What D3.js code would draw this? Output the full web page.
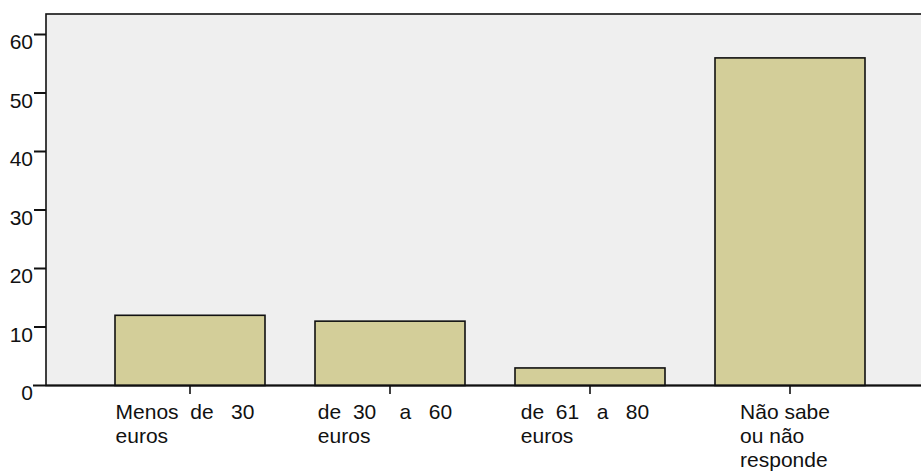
<!DOCTYPE html>
<html>
<head>
<meta charset="utf-8">
<script src="https://cdn.jsdelivr.net/npm/d3@7"></script>
<style>
  html, body { margin: 0; padding: 0; background: #ffffff; }
  svg { display: block; }
  text { font-family: "Liberation Sans", Arial, Helvetica, sans-serif; fill: #111; }
</style>
</head>
<body>
<svg id="chart" width="921" height="471"></svg>
<script>
// Data
const categories = ["Menos de 30 euros", "de 30 a 60 euros", "de 61 a 80 euros", "Não sabe ou não responde"];
const categoryLines = [
  ["Menos  de   30", "euros"],
  ["de  30    a   60", "euros"],
  ["de  61   a   80", "euros"],
  ["Não sabe", "ou não", "responde"]
];
const values = [12, 11, 3, 56];
const yTicks = [0, 10, 20, 30, 40, 50, 60];

const W = 921, H = 471;
const plotLeft = 46, plotTop = 14, plotRight = 925, plotBottom = 385.5;
const fontSize = 21;

const svg = d3.select("#chart");

const x = d3.scaleBand()
  .domain(categories)
  .range([90, 890])
  .paddingInner(0.25)
  .paddingOuter(0.125);

const y = d3.scaleLinear()
  .domain([0, 60])
  .range([plotBottom, 34.5]);

// plot background
svg.append("rect")
  .attr("x", plotLeft).attr("y", plotTop)
  .attr("width", plotRight - plotLeft).attr("height", plotBottom - plotTop)
  .attr("fill", "#efefef")
  .attr("stroke", "#111").attr("stroke-width", 1.6);

// bars
svg.append("g").selectAll("rect")
  .data(values)
  .join("rect")
  .attr("x", (d, i) => x(categories[i]))
  .attr("y", d => y(d))
  .attr("width", x.bandwidth())
  .attr("height", d => y(0) - y(d))
  .attr("fill", "#d3ce99")
  .attr("stroke", "#111")
  .attr("stroke-width", 1.6);

// y axis ticks and labels
const yg = svg.append("g");
yg.selectAll("line")
  .data(yTicks.filter(t => t > 0))
  .join("line")
  .attr("x1", 34).attr("x2", plotLeft)
  .attr("y1", d => y(d)).attr("y2", d => y(d))
  .attr("stroke", "#111").attr("stroke-width", 2);
yg.selectAll("text")
  .data(yTicks)
  .join("text")
  .attr("x", 33)
  .attr("y", d => y(d) + 14.5)
  .attr("text-anchor", "end")
  .attr("font-size", fontSize)
  .text(d => d);

// x axis line
svg.append("line")
  .attr("x1", 33).attr("x2", W)
  .attr("y1", plotBottom).attr("y2", plotBottom)
  .attr("stroke", "#111").attr("stroke-width", 2);

// x ticks
svg.append("g").selectAll("line")
  .data(categories)
  .join("line")
  .attr("x1", d => x(d) + x.bandwidth() / 2)
  .attr("x2", d => x(d) + x.bandwidth() / 2)
  .attr("y1", plotBottom).attr("y2", plotBottom + 8.5)
  .attr("stroke", "#111").attr("stroke-width", 1.6);

// x labels: block centered under tick, lines left aligned
const xl = svg.append("g").selectAll("text")
  .data(categories)
  .join("text")
  .attr("font-size", fontSize)
  .style("white-space", "pre")
  .attr("xml:space", "preserve");
xl.each(function(d, i) {
  const t = d3.select(this);
  const spans = t.selectAll("tspan")
    .data(categoryLines[i])
    .join("tspan")
    .attr("y", (l, j) => plotBottom + 33.5 + j * 24)
    .text(l => l);
  let w = 0;
  spans.each(function() { w = Math.max(w, this.getComputedTextLength()); });
  const cx = x(d) + x.bandwidth() / 2;
  spans.attr("x", cx - 5 - w / 2);
});
</script>
</body>
</html>
